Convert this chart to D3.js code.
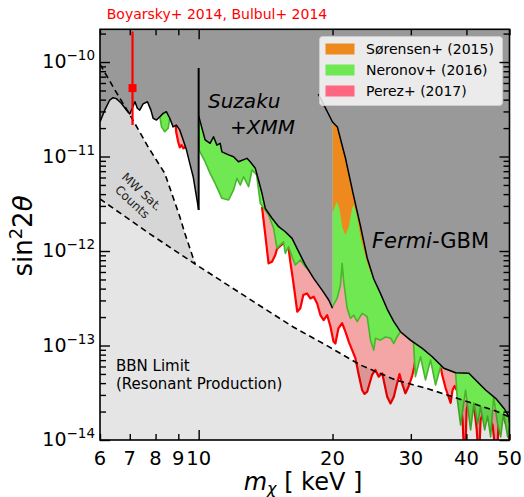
<!DOCTYPE html>
<html>
<head>
<meta charset="utf-8">
<script src="https://cdn.jsdelivr.net/npm/d3@7"></script>
<style>
  body { margin: 0; background: white; }
  svg text { font-family: "DejaVu Sans", sans-serif; }
</style>
</head>
<body>
<div id="chart"></div>
<script>
// [m_chi (keV), sin^2 2theta]

// X-ray upper limits (black curves)
const limitLow = [[6.0,2.32e-11],[6.15,3.1e-11],[6.31,3.96e-11],[6.42,4.19e-11],[6.53,4.1e-11],[6.70,3.66e-11],
  [6.88,3.1e-11],[7.0,2.82e-11],[7.19,3.8e-11],[7.28,3.24e-11],[7.37,3.1e-11],[7.50,3.6e-11],[7.67,3.8e-11],
  [7.81,3.1e-11],[7.90,2.54e-11],[8.04,2.43e-11],[8.18,2.64e-11],[8.32,2.86e-11],[8.46,2.98e-11],[8.61,2.54e-11],
  [8.76,2.06e-11],[8.91,2.15e-11],[9.07,1.9e-11],[9.23,1.5e-11],[9.39,1.17e-11],[9.55,8.47e-12],[9.72,6.11e-12],
  [9.83,4.43e-12],[10.0,2.72e-12]];
const tenKevLine = [[10.0,2.72e-12],[10.0,8.65e-11]];
const limitSuzaku = [[10.0,2.69e-11],[10.34,1.5e-11],[10.61,1.38e-11],[10.80,1.62e-11],[10.99,1.32e-11],[11.18,1.38e-11],
  [11.28,1.12e-11],[11.68,1.04e-11],[11.98,9.95e-12],[12.29,8.81e-12],[12.84,9.57e-12],[13.06,8.81e-12],[13.41,7.5e-12],
  [13.63,5.64e-12],[13.88,4.08e-12],[14.12,2.83e-12],[14.62,2.22e-12],[15.13,1.81e-12],[15.66,1.6e-12],[16.22,1.36e-12],
  [16.78,9.85e-13],[17.37,7.12e-13],[18.14,5.14e-13],[18.95,3.86e-13],[19.61,3.03e-13],[20.0,2.48e-13]];
const limitFermi = [[18.59,4.58e-11],[20.0,2.32e-11],[20.51,2.05e-11],[21.38,9.64e-12],[22.28,3.92e-12],[23.11,1.84e-12],
  [23.93,8.44e-13],[24.76,5.06e-13],[25.63,3.56e-13],[26.54,2.43e-13],[27.47,1.79e-13],[28.43,1.4e-13],[29.94,1.14e-13],
  [31.83,9.33e-14],[33.52,7.6e-14],[35.6,5.74e-14],[37.83,5.15e-14],[40.52,5.08e-14],[42.33,4.14e-14],[44.18,3.38e-14],
  [46.54,2.76e-14],[48.6,2.16e-14],[49.88,1.77e-14],[50,1.51e-14]];

// lower edges of the shaded constraints
const neronovLow1 = [[8.18,2.64e-11],[8.25,2.06e-11],[8.39,1.83e-11],[8.54,1.99e-11],[8.61,2.54e-11]];
const neronovLow2 = [[10.0,2.69e-11],[10.02,1.17e-11],[10.34,8.81e-12],[10.61,6.64e-12],[10.89,5.2e-12],[11.28,3.61e-12],
  [11.68,3.47e-12],[11.98,4.43e-12],[12.19,5.87e-12],[12.41,4.99e-12],[12.62,6.11e-12],[12.95,4.79e-12],[13.18,7.2e-12],
  [13.5,6.4e-12],[13.76,3.2e-12],[14.36,2.4e-12],[14.74,1.74e-12],[15.0,1.07e-12],[15.26,1.16e-12],[15.52,1.25e-12],
  [15.66,9.46e-13],[15.93,1.11e-12],[16.22,8.71e-13],[16.49,7.12e-13],[16.93,8.04e-13],[17.37,6.83e-13],[17.83,6.04e-13],
  [18.01,5.43e-13]];
const neronovLow3 = [[20.0,2.58e-13],[20.48,3.15e-13],[20.84,4.37e-13],[21.02,7.41e-13],[21.19,4.73e-13],[21.57,2.48e-13],
  [21.94,1.94e-13],[22.33,2.1e-13],[22.72,1.79e-13],[23.31,2.19e-13],[23.93,2.02e-13],[24.34,1.14e-13],[24.76,8.95e-14],
  [24.98,1.19e-13],[25.63,1.14e-13],[26.3,1.23e-13],[27.0,1.2e-13],[27.47,1.05e-13],[27.94,1.24e-13],[28.43,1.4e-13],
  [29.94,1.14e-13],[30.41,1.08e-13],[30.72,4.68e-14],[31.54,7.6e-14],[32.36,4.32e-14],[33.22,7.03e-14],[34.1,3.82e-14],
  [34.99,5.97e-14],[35.6,5.74e-14],[37.83,5.15e-14],[38.15,2.72e-14],[38.82,1.44e-14],[39.83,3.38e-14],[40.88,1.28e-14],
  [41.59,2.47e-14],[42.4,1.48e-14],[43.05,2.23e-14],[43.97,1.28e-14],[44.64,1.79e-14],[45.35,1.08e-14],[46.06,2.85e-14],
  [47.02,1.48e-14],[47.76,1.08e-14],[48.51,1.93e-14],[49.53,1.08e-14],[50,1.44e-14]];
const sorensenLow = [[20.0,2.52e-12],[20.3,3.07e-12],[20.48,3.3e-12],[20.76,2.72e-12],[21.02,1.79e-12],[21.38,1.48e-12],
  [21.75,1.79e-12],[22.14,2.85e-12],[22.33,3.07e-12],[22.72,2.29e-12],[23.11,1.41e-12],[23.5,1.03e-12],[23.93,7.47e-13],
  [24.34,6.0e-13],[24.76,5.06e-13]];
const perezLow1 = [[8.88,2.12e-11],[8.90,1.83e-11],[8.99,1.44e-11],[9.07,1.25e-11],[9.15,1.32e-11],[9.24,1.22e-11],[9.34,1.26e-11]];
const perezLow2 = [[13.88,2.94e-12],[14.12,1.48e-12],[14.36,7.41e-13],[14.62,7.71e-13],[14.87,9.08e-13],[15.0,1.05e-12],
  [15.26,1.13e-12],[15.52,1.22e-12],[15.93,1.08e-12],[16.07,7.71e-13],[16.32,4.73e-13],[16.66,2.28e-13],[16.93,2.48e-13],
  [17.19,3.42e-13],[17.52,3.56e-13],[17.83,3.15e-13],[18.14,3.28e-13],[18.46,2.8e-13],[18.78,2.1e-13],[19.1,1.86e-13],
  [19.45,2.1e-13],[19.79,1.58e-13],[20.1,1.1e-13],[20.3,1.05e-13],[20.62,1.52e-13],[21.02,1.72e-13],[21.38,1.4e-13],
  [21.75,1.1e-13],[22.14,8.95e-14],[22.51,7.38e-14],[22.91,4.88e-14],[23.31,3.38e-14],[23.6,3.07e-14],[23.93,3.24e-14],
  [24.54,4.88e-14],[24.98,5.51e-14],[25.4,4.68e-14],[25.87,5.08e-14],[26.54,2.87e-14],[27.0,2.44e-14],[27.47,2.87e-14],
  [27.94,3.98e-14],[28.29,4.99e-14],[28.69,3.92e-14],[29.17,3.12e-14],[29.64,3.66e-14],[30.2,4.75e-14],[30.5,5.78e-14],
  [30.9,8.53e-14],[31.54,8.75e-14],[33.22,7.55e-14],[34.99,6.07e-14],[35.29,4.88e-14],[35.91,3.55e-14],[36.48,2.85e-14],
  [36.86,2.47e-14],[37.24,3.38e-14],[37.63,3.73e-14],[38.22,3.22e-14],[38.82,2.52e-14],[39.22,1.63e-14],[39.43,9e-15],
  [39.83,9e-15],[40.04,2.08e-14],[40.46,2.65e-14],[41.1,2.34e-14],[41.74,1.98e-14],[42.17,1.34e-14],[42.4,9e-15],
  [42.83,9e-15],[43.05,1.63e-14],[43.73,1.98e-14],[44.42,1.84e-14],[45.12,1.63e-14],[45.82,1.44e-14],[46.3,9e-15],
  [47.02,9e-15],[47.28,1.63e-14],[48.02,1.84e-14],[48.76,1.63e-14],[49.53,1.28e-14],[50,1e-14]];

// dashed limits
const mwSat = [[6.0,9.5e-11],[6.48,5.06e-11],[7.01,2.75e-11],[7.7,1.26e-11],[8.39,6.64e-12],[9.07,2.31e-12],[9.31,1.54e-12],[9.82,7.28e-13]];
const bbn = [[6.0,3.55e-12],[7.78,1.51e-12],[9.82,7.28e-13],[13.76,2.62e-13],[16.32,1.57e-13],[19.48,9.9e-14],[23.11,6.22e-14],
  [27.71,4.32e-14],[32.88,3.47e-14],[39.2,2.65e-14],[46.54,2.03e-14],[50,1.75e-14]];

// 3.5 keV line
const boyarskyMass = 7.1, boyarskyVal = 5.3e-11, boyarskyLo = 2.15e-11, boyarskyHi = 2.1e-10;

const legendLabels = ["Sørensen+ (2015)", "Neronov+ (2016)", "Perez+ (2017)"];
const legendColors = ["#ee8a1d", "#6fe852", "#ff6680"];

const xTickMajor = [10];
const xTickMinor = [6, 7, 8, 9, 20, 30, 40, 50];
const yTickMajor = [1e-14, 1e-13, 1e-12, 1e-11, 1e-10];
const yTickExp = [-14, -13, -12, -11, -10];

function plot(){
  let svg = d3.select("#chart").append("svg")
    .attr("width", 524)
    .attr("height", 497);

  svg.append("rect").attr("width", "100%").attr("height", "100%").attr("fill", "white");

  let pl = {left: 100, right: 509.5, top: 29.3, bottom: 440};
  let x = d3.scaleLog().domain([6, 50]).range([pl.left, pl.right]);
  let y = d3.scaleLog().domain([1e-14, 2.22e-10]).range([pl.bottom, pl.top]);
  let line = d3.line().x(d => x(d[0])).y(d => y(d[1]));

  svg.append("clipPath").attr("id", "clip")
    .append("rect")
      .attr("x", pl.left).attr("y", pl.top)
      .attr("width", pl.right - pl.left).attr("height", pl.bottom - pl.top);

  let g = svg.append("g").attr("clip-path", "url(#clip)");

  // upper edge slice + reversed lower edge -> closed band
  function band(upper, lower){
    let lo = lower[0][0], hi = lower[lower.length - 1][0];
    let top = upper.filter(d => d[0] >= lo && d[0] <= hi);
    return top.concat(lower.slice().reverse());
  }
  let fermiTop = limitFermi.filter(d => d[0] >= 20);
  let combinedTop = limitSuzaku.concat(fermiTop);

  // Perez+ (2017)
  [band(limitLow, perezLow1), band(combinedTop, perezLow2)].forEach(p => {
    g.append("path").attr("d", line(p) + "Z").attr("fill", "#f4a6a6");
  });
  [perezLow1, perezLow2].forEach(p => {
    g.append("path").attr("d", line(p)).attr("fill", "none")
      .attr("stroke", "#ff0000").attr("stroke-width", 2.2).attr("stroke-linejoin", "round");
  });

  // Neronov+ (2016)
  [[limitLow, neronovLow1], [limitSuzaku, neronovLow2], [fermiTop, neronovLow3]].forEach(p => {
    g.append("path").attr("d", line(band(p[0], p[1])) + "Z").attr("fill", "#6fe852");
    g.append("path").attr("d", line(p[1])).attr("fill", "none")
      .attr("stroke", "#48b52c").attr("stroke-width", 1.6).attr("stroke-linejoin", "round");
  });

  // Sorensen+ (2015)
  g.append("path").attr("d", line(band(fermiTop, sorensenLow)) + "Z").attr("fill", "#ee8a1d");

  // MW satellite counts + BBN shading
  let mwPoly = mwSat.concat(bbn.filter(d => d[0] <= 9.82).reverse());
  g.append("path").attr("d", line(mwPoly) + "Z").attr("fill", "black").attr("fill-opacity", 0.16);
  let bbnPoly = bbn.concat([[50, 1e-15], [6, 1e-15]]);
  g.append("path").attr("d", line(bbnPoly) + "Z").attr("fill", "black").attr("fill-opacity", 0.1);

  // excluded region
  let grayPoly = [[6, 1e-9]].concat(limitLow, limitSuzaku, fermiTop, [[50, 1e-9]]);
  g.append("path").attr("d", line(grayPoly) + "Z").attr("fill", "#999999");

  [limitLow, limitSuzaku, limitFermi].forEach(p => {
    g.append("path").attr("d", line(p)).attr("fill", "none")
      .attr("stroke", "black").attr("stroke-width", 1.5).attr("stroke-linejoin", "round");
  });
  g.append("path").attr("d", line(tenKevLine)).attr("stroke", "black").attr("stroke-width", 2);

  [mwSat, bbn].forEach(p => {
    g.append("path").attr("d", line(p)).attr("fill", "none")
      .attr("stroke", "black").attr("stroke-width", 1.6).attr("stroke-dasharray", "6,4");
  });

  // Boyarsky / Bulbul point
  g.append("line")
    .attr("x1", x(boyarskyMass)).attr("x2", x(boyarskyMass))
    .attr("y1", y(boyarskyLo)).attr("y2", y(boyarskyHi))
    .attr("stroke", "#ff0000").attr("stroke-width", 2.2);
  g.append("rect")
    .attr("x", x(boyarskyMass) - 4).attr("y", y(boyarskyVal) - 4)
    .attr("width", 8).attr("height", 8).attr("fill", "#ff0000");

  svg.append("text")
    .attr("x", 217).attr("y", 19)
    .attr("text-anchor", "middle")
    .attr("fill", "#ff0000")
    .style("font-size", "14px")
    .text("Boyarsky+ 2014, Bulbul+ 2014");

  // labels in the plot
  let suz = svg.append("text").style("font-size", "20px").style("font-style", "italic");
  suz.append("tspan").attr("x", 208).attr("y", 108).text("Suzaku");
  suz.append("tspan").attr("x", 230).attr("y", 134).text("+XMM");

  let fer = svg.append("text").attr("x", 372).attr("y", 248).style("font-size", "21px");
  fer.append("tspan").style("font-style", "italic").text("Fermi");
  fer.append("tspan").text("-GBM");

  let mw = svg.append("text")
    .attr("transform", "translate(137,197) rotate(43)")
    .attr("text-anchor", "middle")
    .attr("fill", "#222")
    .style("font-size", "12px");
  mw.append("tspan").attr("x", 0).attr("y", -3).text("MW Sat.");
  mw.append("tspan").attr("x", 0).attr("y", 11).text("Counts");

  let bb = svg.append("text").style("font-size", "15px");
  bb.append("tspan").attr("x", 116).attr("y", 371).text("BBN Limit");
  bb.append("tspan").attr("x", 116).attr("y", 389).text("(Resonant Production)");

  // legend
  let leg = svg.append("g").attr("transform", "translate(319.5,36.5)");
  leg.append("rect")
    .attr("width", 183).attr("height", 69).attr("rx", 3)
    .attr("fill", "white").attr("fill-opacity", 0.8)
    .attr("stroke", "#cccccc");
  legendLabels.forEach((lab, i) => {
    let cy = 12.5 + i * 21;
    leg.append("rect").attr("x", 6).attr("y", cy - 5.5).attr("width", 29).attr("height", 11)
      .attr("fill", legendColors[i]);
    leg.append("text").attr("x", 46.5).attr("y", cy + 5).style("font-size", "14px").text(lab);
  });

  // axes, ticks pointing in
  let minorY = [];
  [-14, -13, -12, -11, -10].forEach(e => {
    for (let k = 2; k <= 9; k++){
      let v = k * Math.pow(10, e);
      if (v < 2.22e-10) minorY.push(v);
    }
  });

  function styleAxis(sel){
    sel.select(".domain").remove();
    sel.selectAll(".tick line").attr("stroke", "black").attr("stroke-width", 1.4);
  }

  svg.append("g").attr("transform", "translate(" + pl.left + ",0)")
    .call(d3.axisLeft(y).tickValues(yTickMajor).tickSize(-10).tickFormat("")).call(styleAxis);
  svg.append("g").attr("transform", "translate(" + pl.left + ",0)")
    .call(d3.axisLeft(y).tickValues(minorY).tickSize(-6).tickFormat("")).call(styleAxis);
  svg.append("g").attr("transform", "translate(" + pl.right + ",0)")
    .call(d3.axisRight(y).tickValues(yTickMajor).tickSize(-10).tickFormat("")).call(styleAxis);
  svg.append("g").attr("transform", "translate(" + pl.right + ",0)")
    .call(d3.axisRight(y).tickValues(minorY).tickSize(-6).tickFormat("")).call(styleAxis);

  svg.append("g").attr("transform", "translate(0," + pl.bottom + ")")
    .call(d3.axisBottom(x).tickValues(xTickMajor).tickSize(-10).tickFormat("")).call(styleAxis);
  svg.append("g").attr("transform", "translate(0," + pl.bottom + ")")
    .call(d3.axisBottom(x).tickValues(xTickMinor).tickSize(-6).tickFormat("")).call(styleAxis);
  svg.append("g").attr("transform", "translate(0," + pl.top + ")")
    .call(d3.axisTop(x).tickValues(xTickMajor).tickSize(-10).tickFormat("")).call(styleAxis);
  svg.append("g").attr("transform", "translate(0," + pl.top + ")")
    .call(d3.axisTop(x).tickValues(xTickMinor).tickSize(-6).tickFormat("")).call(styleAxis);

  svg.append("rect")
    .attr("x", pl.left).attr("y", pl.top)
    .attr("width", pl.right - pl.left).attr("height", pl.bottom - pl.top)
    .attr("fill", "none").attr("stroke", "black").attr("stroke-width", 1.6);

  // tick labels
  xTickMinor.concat(xTickMajor).forEach(v => {
    svg.append("text")
      .attr("x", x(v)).attr("y", 465)
      .attr("text-anchor", "middle")
      .style("font-size", "19.5px")
      .text(v);
  });
  yTickMajor.forEach((v, i) => {
    let t = svg.append("text")
      .attr("x", 95).attr("y", y(v) + 6)
      .attr("text-anchor", "end")
      .style("font-size", "19px");
    t.append("tspan").text("10");
    t.append("tspan").attr("dy", -8).style("font-size", "13.5px").text("\u2212" + (-yTickExp[i]));
  });

  // axis titles
  let xl = svg.append("text").attr("x", 303).attr("y", 490)
    .attr("text-anchor", "middle").style("font-size", "24px");
  xl.append("tspan").style("font-style", "italic").text("m");
  xl.append("tspan").attr("dy", 4).style("font-style", "italic").style("font-size", "16px").text("χ");
  xl.append("tspan").attr("dy", -4).text(" [ keV ]");

  let yl = svg.append("text").attr("transform", "translate(32,236) rotate(-90)")
    .attr("text-anchor", "middle").style("font-size", "26px");
  yl.append("tspan").text("sin");
  yl.append("tspan").attr("dy", -10).style("font-size", "18px").text("2");
  yl.append("tspan").attr("dy", 10).text("2");
  yl.append("tspan").style("font-style", "italic").text("θ");
}

plot();
</script>
</body>
</html>
